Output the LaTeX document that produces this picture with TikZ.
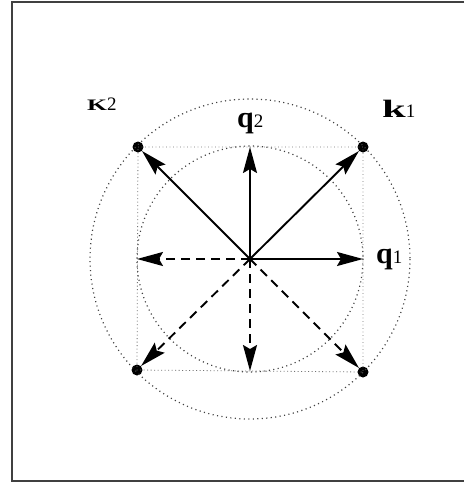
\documentclass[tikz,border=0pt]{standalone}
\usepackage{fontspec}
\setmainfont{Liberation Serif}
\usetikzlibrary{arrows.meta}
\tikzset{
  dotc/.style={draw=black!75, line width=1.2pt, dash pattern=on 1.1pt off 3.4pt},
  dotsq/.style={draw=black!55, line width=0.8pt, dash pattern=on 0.9pt off 2.6pt},
  vec/.style={line width=1.9pt, -{Stealth[length=26pt,width=14pt,inset=4pt]}},
  dvec/.style={vec, dash pattern=on 9pt off 6pt},
  pt/.style={circle, fill=black, inner sep=0pt, minimum size=11pt},
  lbl/.style={anchor=base west, inner sep=0pt},
  frame/.style={draw=black!75, line width=1.4pt}
}
\newcommand\digit[1]{{\fontsize{19}{19}\selectfont #1}}
\begin{document}
\begin{tikzpicture}[x=1pt,y=-1pt]
\useasboundingbox (0,0) rectangle (464,485);
\draw[frame] (464,2) -- (12,2) -- (12,481) -- (464,481);
% geometry
\coordinate (c) at (250,259);
\node[pt] (k1) at (363,147) {};
\node[pt] (k2) at (138,147) {};
\node[pt] (k3) at (137,370) {};
\node[pt] (k4) at (363,372) {};
\coordinate (e) at (363,259);
\coordinate (n) at (250,147);
\coordinate (w) at (137,259);
\coordinate (s) at (250,371);
% dotted circles and square
\draw[dotc] (c) circle[radius=160];
\draw[dotc] (c) circle[radius=113];
\draw[dotsq] (k2.center) -- (k1.center) -- (k4.center) -- (k3.center) -- cycle;
% vectors
\draw[vec] (c) -- (e);
\draw[vec] (c) -- (n);
\draw[vec] (c) -- (k1);
\draw[vec] (c) -- (k2);
\draw[dvec] (c) -- (w);
\draw[dvec] (c) -- (s);
\draw[dvec] (c) -- (k3);
\draw[dvec] (c) -- (k4);
% labels
\node[lbl] (lk2) at (87,110) {\scalebox{1.6}[1]{\fontsize{16}{16}\selectfont\textbf{K}}\digit{2}};
\node[lbl] (lk1) at (382,117) {\scalebox{1.7}[1]{\fontsize{25}{25}\selectfont\textbf{k}}\digit{1}};
\node[lbl] (lq2) at (237,127) {{\fontsize{30}{30}\selectfont\textbf{q}}\digit{2}};
\node[lbl] (lq1) at (376,263) {{\fontsize{30}{30}\selectfont\textbf{q}}\digit{1}};
\end{tikzpicture}
\end{document}
